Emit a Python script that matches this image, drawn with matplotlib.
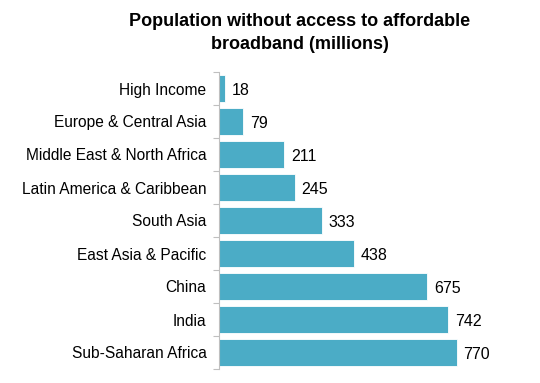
import matplotlib
matplotlib.use("Agg")
import matplotlib.pyplot as plt
import numpy as np

categories = ["High Income", "Europe & Central Asia", "Middle East & North Africa",
              "Latin America & Caribbean", "South Asia", "East Asia & Pacific",
              "China", "India", "Sub-Saharan Africa"]
values = [18, 79, 211, 245, 333, 438, 675, 742, 770]

plt.rcParams['font.family'] = ['Liberation Sans', 'DejaVu Sans']

fig = plt.figure(figsize=(5.4, 3.83), dpi=100)
ax = fig.add_axes([219/540, 1-369/383, (466-219)/540, (369-72)/383])
y = np.arange(len(categories))
color = "#4BACC6"
ax.barh(y, values, height=0.8, color=color, edgecolor="white", linewidth=0.6)
ax.set_ylim(len(categories)-0.5, -0.5)
ax.set_xlim(0, 800)
ax.set_yticks(y)
ax.set_yticklabels(categories, fontsize=11.2, color="black")
ax.set_yticks(np.arange(-0.5, len(categories), 1), minor=True)
ax.tick_params(axis='y', which='major', length=0, pad=9)
ax.tick_params(axis='y', which='minor', length=4, color="#BFBFBF", width=0.8)
ax.set_xticks([])
for s in ["top", "right", "bottom"]:
    ax.spines[s].set_visible(False)
ax.spines["left"].set_color("#BFBFBF")
ax.spines["left"].set_linewidth(0.8)
for yi, v in zip(y, values):
    ax.text(v + 22, yi + 0.05, str(v), va="center", ha="left", fontsize=11.5, clip_on=False)

fig.text(300/540, 1-33/383, "Population without access to affordable\nbroadband (millions)",
         ha="center", va="center", fontsize=13, fontweight="bold", linespacing=1.5)

fig.savefig("out.png", dpi=100)
